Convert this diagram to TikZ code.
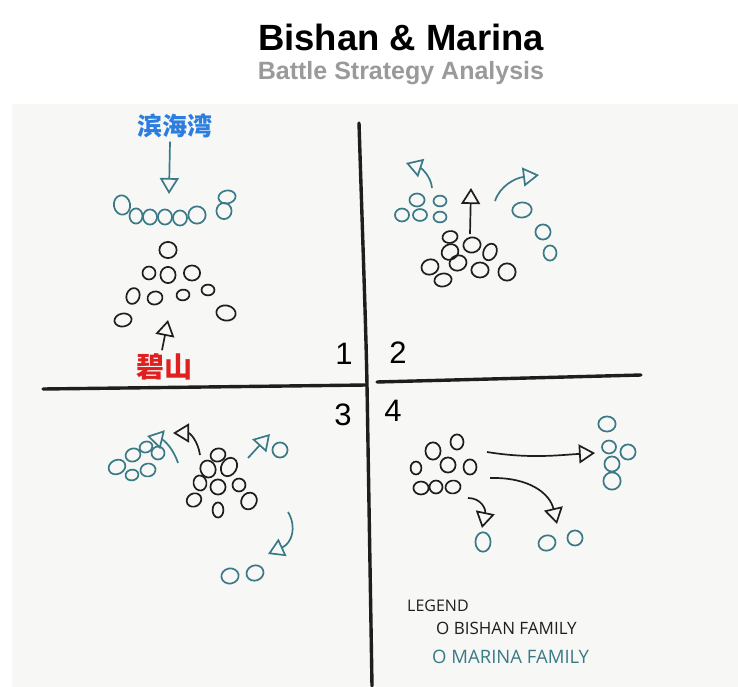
\documentclass[tikz,border=0pt]{standalone}
\usepackage{fontspec}
\setmainfont{Liberation Sans}
\newfontfamily\cjk{Noto Sans CJK SC}
\newfontfamily\hand{Open Sans}
\usetikzlibrary{arrows.meta}
\definecolor{ink}{HTML}{1E1E1E}
\definecolor{tealink}{HTML}{3A7A87}
\definecolor{panel}{HTML}{F7F7F5}
\definecolor{cnblue}{HTML}{2B7DE0}
\definecolor{cnred}{HTML}{E0201E}
\definecolor{subgray}{HTML}{9A9A9A}
\newcommand{\blob}[6]{\draw[#1] (#2,#3) ellipse [x radius=1.08*#4pt, y radius=1.08*#5pt, rotate=#6];}
\tikzset{
  bk/.style={draw=ink, line width=1.7pt},
  tl/.style={draw=tealink, line width=1.7pt},
  tipT/.tip={Triangle[open,length=16pt,width=19pt]},
  arrK/.style={draw=ink, line width=1.7pt, -tipT},
  arrT/.style={draw=tealink, line width=1.7pt, -tipT},
  axis/.style={draw=ink, line width=3.4pt, line cap=round},
  num/.style={font=\fontsize{31}{31}\selectfont, text=black},
}
\begin{document}
\begin{tikzpicture}[x=1pt,y=-1pt]
\useasboundingbox (0,0) rectangle (738,687);
\fill[white] (0,0) rectangle (738,687);
\fill[panel] (12,104) rectangle (738,687);

% titles
\node[font=\bfseries\fontsize{36.5}{36.5}\selectfont, text=black] (title) at (401,37) {Bishan \& Marina};
\node[font=\bfseries\fontsize{25}{25}\selectfont, text=subgray] (sub) at (401,73) {Battle Strategy Analysis};

% axes
\coordinate (vt) at (359,123);
\coordinate (vm) at (367,385);
\coordinate (vb) at (372,686);
\draw[axis] (vt) .. controls (363,250) and (366,330) .. (vm) -- (vb);
\coordinate (hl1) at (43,389);
\coordinate (hl2) at (366,385);
\draw[axis] (hl1) -- (hl2);
\coordinate (hr1) at (377,382);
\coordinate (hr2) at (641,375);
\draw[axis] (hr1) -- (hr2);

\node[num] (n1) at (344,354) {1};
\node[num] (n2) at (398,353) {2};
\node[num] (n3) at (343,415) {3};
\node[num] (n4) at (393,411) {4};

% ---------- quadrant 1
\node[font=\cjk\bfseries\fontsize{25}{25}\selectfont, text=cnblue] (bhw) at (175,126) {滨海湾};
\coordinate (a1e) at (169,194);
\draw[arrT] ([xshift=-5pt]bhw.south) -- (a1e);
\blob{tl}{122}{205}{7.5}{9}{10}
\blob{tl}{136}{216}{6}{7}{0}
\blob{tl}{150}{217}{6.5}{7}{0}
\blob{tl}{165}{217}{6.5}{7}{0}
\blob{tl}{180}{218}{6.5}{7}{0}
\blob{tl}{197}{215}{8}{8}{0}
\blob{tl}{227}{197}{8}{6}{10}
\blob{tl}{224}{211}{7}{7.5}{0}

\blob{bk}{168}{250}{8}{7.5}{0}
\blob{bk}{149}{273}{6}{6}{0}
\blob{bk}{168}{275}{7}{7.5}{0}
\blob{bk}{192}{273}{7.5}{7}{0}
\blob{bk}{133}{296}{6}{7.5}{-20}
\blob{bk}{155}{298}{7}{6}{15}
\blob{bk}{183}{295}{6}{5}{10}
\blob{bk}{208}{290}{6}{5}{0}
\blob{bk}{123}{320}{8}{6}{10}
\blob{bk}{226}{313}{9}{7}{-10}

\node[font=\cjk\bfseries\fontsize{28}{28}\selectfont, text=cnred] (bs) at (164,367) {碧山};
\coordinate (a2e) at (168,320);
\draw[arrK] ([xshift=-2pt]bs.north) -- (a2e);

% ---------- quadrant 2
\blob{tl}{417}{200}{7}{6}{0}
\blob{tl}{440}{201}{6}{5}{0}
\blob{tl}{402}{215}{6.5}{6}{0}
\blob{tl}{420}{215}{6.5}{5.5}{0}
\blob{tl}{440}{217}{6}{5}{0}
\coordinate (q2a1s) at (432,188);
\coordinate (q2a1e) at (406,163);
\draw[arrT] (q2a1s) .. controls (431,176) and (421,168) .. (q2a1e);

\coordinate (q2a2s) at (470,234);
\coordinate (q2a2e) at (471,188);
\draw[arrK] (q2a2s) -- (q2a2e);

\coordinate (q2a3s) at (495,201);
\coordinate (q2a3e) at (539,175);
\draw[arrT] (q2a3s) .. controls (500,186) and (515,178) .. (q2a3e);

\blob{tl}{522}{210}{9}{7}{5}
\blob{tl}{543}{232}{7}{7}{0}
\blob{tl}{550}{253}{6}{7}{0}

\blob{bk}{450}{237}{7}{5.5}{10}
\blob{bk}{472}{245}{8}{7}{10}
\blob{bk}{450}{252}{8}{7}{30}
\blob{bk}{490}{252}{6}{8}{-25}
\blob{bk}{430}{267}{8}{7}{20}
\blob{bk}{458}{263}{8}{7}{20}
\blob{bk}{480}{270}{8}{7}{0}
\blob{bk}{507}{272}{8}{8}{0}
\blob{bk}{443}{280}{8}{6}{10}

% ---------- quadrant 3
\blob{tl}{117}{467}{8}{6.5}{25}
\blob{tl}{133}{455}{7}{6}{20}
\blob{tl}{146}{447}{6}{5}{20}
\blob{tl}{158}{453}{6}{6}{0}
\blob{tl}{132}{475}{6}{5}{10}
\blob{tl}{148}{470}{7}{6}{10}
\coordinate (q3a0s) at (178,463);
\coordinate (q3a0e) at (147,436);
\draw[arrT] (q3a0s) .. controls (173,448) and (164,440) .. (q3a0e);

\coordinate (q3a1s) at (200,455);
\coordinate (q3a1e) at (173,433);
\draw[arrK] (q3a1s) .. controls (198,441) and (190,433) .. (q3a1e);

\coordinate (q3a2s) at (248,458);
\coordinate (q3a2e) at (270,434);
\draw[arrT] (q3a2s) -- (q3a2e);
\blob{tl}{280}{450}{7}{7}{0}

\blob{bk}{218}{455}{7}{6}{20}
\blob{bk}{208}{469}{7}{8}{20}
\blob{bk}{229}{467}{7}{9}{-30}
\blob{bk}{200}{483}{6}{7}{10}
\blob{bk}{218}{487}{7}{7}{0}
\blob{bk}{239}{485}{6}{6}{20}
\blob{bk}{194}{500}{7}{6}{30}
\blob{bk}{218}{510}{5}{7}{0}
\blob{bk}{249}{501}{7}{8}{-30}

\coordinate (q3a3s) at (288,512);
\coordinate (q3a3e) at (268,554);
\draw[arrT] (q3a3s) .. controls (297,527) and (292,543) .. (q3a3e);
\blob{tl}{230}{576}{8}{7}{10}
\blob{tl}{255}{573}{8}{7}{20}

% ---------- quadrant 4
\blob{bk}{433}{451}{7}{8}{0}
\blob{bk}{457}{442}{6}{7}{0}
\blob{bk}{416}{468}{5}{6}{0}
\blob{bk}{448}{465}{7}{7}{0}
\blob{bk}{470}{467}{6}{7}{0}
\blob{bk}{421}{488}{7}{6}{0}
\blob{bk}{436}{487}{6}{6}{0}
\blob{bk}{453}{487}{7}{6}{10}

\coordinate (q4a1s) at (487,452);
\coordinate (q4a1e) at (595,453);
\draw[arrK] (q4a1s) .. controls (530,459) and (560,455) .. (q4a1e);
\coordinate (q4a2s) at (490,478);
\coordinate (q4a2e) at (557,524);
\draw[arrK] (q4a2s) .. controls (530,477) and (550,494) .. (q4a2e);
\coordinate (q4a3s) at (468,498);
\coordinate (q4a3e) at (482,528);
\draw[arrK] (q4a3s) .. controls (481,498) and (486,509) .. (q4a3e);

\blob{tl}{483}{542}{7}{9}{0}
\blob{tl}{547}{543}{8}{7}{20}
\blob{tl}{575}{538}{7}{7}{0}
\blob{tl}{607}{424}{8}{7}{0}
\blob{tl}{609}{447}{6.5}{6}{0}
\blob{tl}{628}{452}{7}{7}{0}
\blob{tl}{612}{464}{7}{7}{0}
\blob{tl}{612}{481}{8}{8}{0}

% ---------- legend
\node[anchor=west, inner sep=0pt, font=\hand\fontsize{16}{16}\selectfont, text=ink] (lg) at (407,606) {LEGEND};
\node[anchor=west, inner sep=0pt, font=\hand\fontsize{17}{17}\selectfont, text=ink] (lb) at (436,628) {O BISHAN FAMILY};
\node[anchor=west, inner sep=0pt, font=\hand\fontsize{18.5}{18.5}\selectfont, text=tealink] (lm) at (432,657) {O MARINA FAMILY};
\end{tikzpicture}
\end{document}
